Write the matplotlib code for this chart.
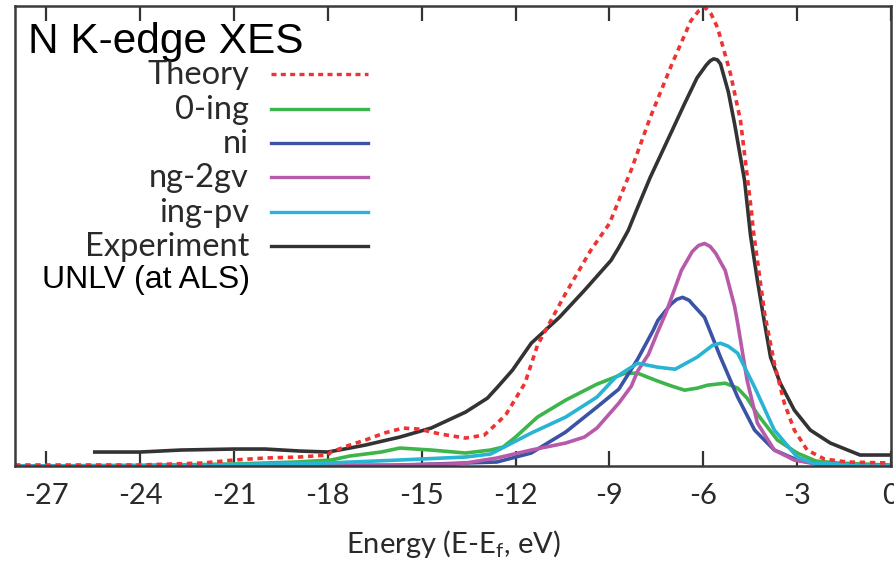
import matplotlib.pyplot as plt
from matplotlib.lines import Line2D

# energies (E - Ef, eV) and intensities (arb. units)
exp_e = [-25.45, -24.0, -22.7, -21.0, -20.0, -18.9, -18.0, -17.3, -16.8, -15.7,
         -14.7, -13.6, -12.9, -12.55, -12.1, -11.5, -10.6, -9.8, -8.95, -8.7,
         -8.4, -8.1, -7.7, -7.0, -6.6, -6.2, -5.9, -5.78, -5.67, -5.55, -5.45, -5.2,
         -5.0, -4.68, -4.49, -4.27, -4.04, -3.85, -3.54, -3.09, -2.58, -1.94,
         -0.99, -0.06]
exp_i = [14, 14, 16, 17, 17, 15, 14, 18, 21, 29,
         38, 54, 68, 80, 96, 123, 149, 176, 206, 219,
         236, 259, 289, 336, 363, 389, 402, 406, 408, 407, 403, 375,
         343, 286, 231, 186, 143, 109, 83, 56, 36, 23,
         11, 11]

theory_e = [-28.0, -24.0, -22.0, -21.0, -20.0, -18.9, -18.0, -17.9, -17.3, -16.8,
            -16.2, -15.6, -15.1, -14.4, -13.6, -13.0, -12.55, -12.3, -11.7, -11.3,
            -10.4, -9.6, -9.0, -8.3, -7.7, -7.0, -6.4, -6.15, -5.96, -5.75, -5.54, -5.13,
            -4.81, -4.46, -4.4, -4.04, -3.73, -3.41, -3.09, -2.68, -2.13, -1.4, -0.1]
theory_i = [1, 1, 3, 6, 8, 9, 11, 14, 21, 26,
            33, 38, 37, 32, 28, 31, 44, 52, 83, 121,
            173, 216, 243, 297, 349, 403, 446, 456, 460, 453, 439, 393,
            346, 255, 236, 153, 103, 63, 36, 16, 7, 4, 3]

ing0_e = [-28.0, -24.0, -21.0, -19.0, -17.9, -17.3, -16.3, -15.7, -15.2, -14.7,
          -13.6, -12.8, -12.4, -12.0, -11.3, -10.4, -9.4, -8.5, -8.1, -7.45,
          -7.0, -6.6, -6.2, -5.86, -5.3, -4.9, -4.6, -4.27, -3.63, -3.0,
          -2.4, -1.7, -0.1]
ing0_i = [0, 0.5, 2, 4, 6, 10, 14, 18, 17, 16,
          13, 16, 19, 29, 49, 66, 82, 93, 93, 85,
          80, 76, 78, 81, 83, 78, 68, 52, 26, 13,
          5, 3, 1]

ni_e = [-28.0, -20.0, -16.0, -13.6, -12.6, -11.5, -10.4, -9.4, -8.7, -8.1,
        -7.6, -7.45, -7.04, -6.85, -6.66, -6.45, -6.34, -5.96, -5.45, -4.9, -4.36, -3.73,
        -3.0, -2.3, -0.1]
ni_i = [0, 0.2, 0.5, 3, 4, 13, 34, 59, 77, 107,
        136, 146, 162, 167, 169, 166, 162, 149, 109, 69, 36, 16,
        6, 2, 0.5]

ng2gv_e = [-28.0, -20.0, -16.0, -14.0, -13.6, -12.6, -11.5, -10.4, -9.8, -9.4,
           -8.7, -8.3, -8.1, -7.75, -7.45, -7.2, -6.7, -6.35, -6.15, -5.96, -5.78, -5.6,
           -5.3, -5.0, -4.9, -4.6, -4.27, -3.73, -3.1, -2.4, -0.1]
ng2gv_i = [0, 0.5, 1, 2, 3, 8, 16, 23, 29, 38,
           63, 80, 95, 112, 135, 153, 196, 215, 221, 223, 220, 213,
           196, 160, 143, 86, 43, 16, 6, 2, 0.5]

ingpv_e = [-28.0, -24.0, -21.0, -18.0, -15.7, -13.6, -12.8, -12.55, -11.5, -10.4,
           -9.4, -8.8, -8.1, -7.45, -6.9, -6.2, -5.7, -5.45, -5.2, -4.9, -4.36, -3.73,
           -3.0, -2.5, -1.0, -0.1]
ingpv_i = [0, 0.5, 1.5, 3, 6, 9, 12, 16, 33, 49,
           69, 89, 103, 99, 97, 109, 121, 123, 120, 113, 79, 36,
           9, 3, 1, 0.5]

W, H = 895, 570
fig = plt.figure(figsize=(W / 100, H / 100), dpi=100)
ax = fig.add_axes([15 / W, 1 - 466 / H, 876 / W, 460 / H])

narrow = ['Lato', 'DejaVu Sans']
lw = 2.6
ax.plot(ing0_e, ing0_i, color='#3db54a', lw=lw)
ax.plot(ni_e, ni_i, color='#3a53a4', lw=lw)
ax.plot(ng2gv_e, ng2gv_i, color='#b75aa9', lw=lw)
ax.plot(ingpv_e, ingpv_i, color='#28b4d2', lw=lw)
ax.plot(exp_e, exp_i, color='#333333', lw=lw)
ax.plot(theory_e, theory_i, color='#ee3333', lw=lw, linestyle=(0, (1.5, 1.3)))

ax.set_xlim(-28.0, -0.1)
ax.set_ylim(0, 461)
ax.set_yticks([])
ax.set_xticks(range(-27, 1, 3))
ax.set_xticklabels([str(t) for t in range(-27, 1, 3)], family=narrow, fontsize=21,
                   color='#2a2a2a')
ax.tick_params(axis='x', direction='in', top=True, length=11, width=1.6,
               color='#333333', pad=12)
for s in ax.spines.values():
    s.set_linewidth(1.8)
    s.set_color('#3a3a3a')
ax.set_xlabel('Energy (E-E$_\\mathregular{f}$, eV)', family=narrow, fontsize=21,
              labelpad=14, color='#2a2a2a')


def fx(px):
    return px / W


def fy(py):
    return 1 - py / H


fig.text(fx(28), fy(53), 'N K-edge XES', family='Liberation Sans', fontsize=30.5,
         va='baseline', ha='left')

names = ['Theory', '0-ing', 'ni', 'ng-2gv', 'ing-pv', 'Experiment']
colors = ['#ee3333', '#3db54a', '#3a53a4', '#b75aa9', '#28b4d2', '#333333']
rows = [74, 109, 143, 177, 212, 246]
for name, c, r in zip(names, colors, rows):
    fig.text(fx(249), fy(r + 10), name, family=narrow, fontsize=23.5,
             va='baseline', ha='right', color='#2a2a2a')
    ls = (0, (1.5, 1.3)) if name == 'Theory' else '-'
    fig.add_artist(Line2D([fx(271), fx(368)], [fy(r), fy(r)], color=c, lw=2.4,
                          linestyle=ls, transform=fig.transFigure))
fig.text(fx(250), fy(288), 'UNLV (at ALS)', family='Liberation Sans', fontsize=23,
         va='baseline', ha='right')

fig.savefig('out.png', dpi=100)
